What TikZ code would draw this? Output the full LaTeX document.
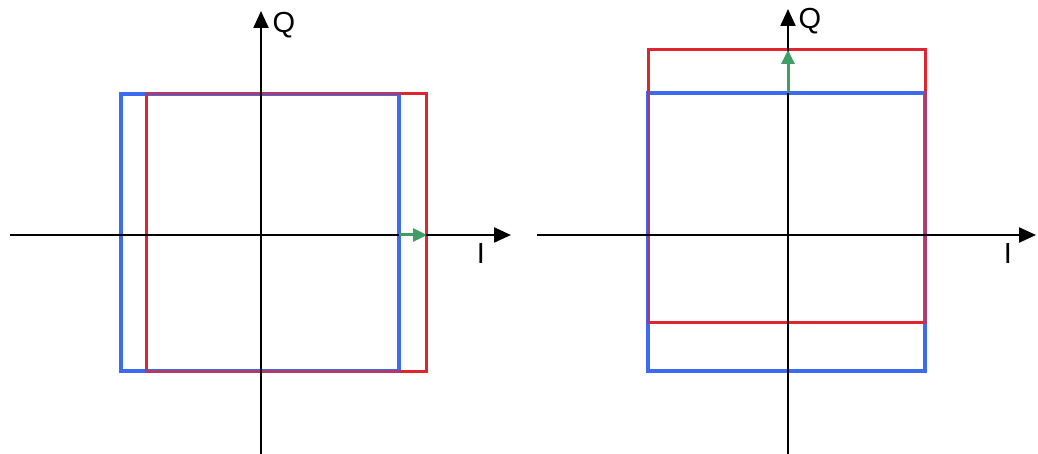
\documentclass[tikz,border=0pt]{standalone}
\usepackage{fontspec}
\setmainfont{Liberation Sans}
\usetikzlibrary{arrows.meta}
\definecolor{bl}{HTML}{3D6BF0}
\definecolor{rd}{HTML}{E0252F}
\definecolor{gr}{HTML}{3E9E66}
\tikzset{
  axis/.style={line width=2.2pt,-{Triangle[length=17pt,width=15pt]}},
  bluebox/.style={bl,line width=3.6pt},
  blueglaze/.style={bl,line width=3.6pt,opacity=0.3},
  redbox/.style={rd,line width=3pt},
  shift arrow/.style={gr,line width=3pt,-{Triangle[length=14pt,width=13pt]}},
  lab/.style={font=\fontsize{29pt}{29pt}\selectfont,inner sep=0pt}
}
\begin{document}
\begin{tikzpicture}[x=1pt,y=-1pt]
\useasboundingbox (0,0) rectangle (1038,454);
% left diagram
\coordinate (LW) at (10,235); \coordinate (LE) at (511,235);
\coordinate (LS) at (261,454); \coordinate (LN) at (261,11);
\draw[bluebox] (121,94) rectangle (399,371);
\draw[redbox] (146,94) rectangle (426,371);
\draw[blueglaze] (121,94) rectangle (399,371);
\draw[axis] (LW) -- (LE);
\draw[axis] (LS) -- (LN);
\coordinate (LA) at (399,235); \coordinate (LB) at (427,235);
\draw[shift arrow] (LA) -- (LB);
\node[lab] (LQ) at (284,25) {Q};
\node[lab] (LI) at (481,254) {I};
% right diagram
\coordinate (RW) at (537,235); \coordinate (RE) at (1036,235);
\coordinate (RS) at (788,454); \coordinate (RN) at (788,9);
\draw[bluebox] (648,93) rectangle (925,371);
\draw[redbox] (648,50) rectangle (925,322);
\draw[blueglaze] (648,93) rectangle (925,371);
\draw[axis] (RW) -- (RE);
\draw[axis] (RS) -- (RN);
\coordinate (RA) at (788,93); \coordinate (RB) at (788,50);
\draw[shift arrow] (RA) -- (RB);
\node[lab] (RQ) at (810,21) {Q};
\node[lab] (RI) at (1008,254) {I};
\end{tikzpicture}
\end{document}
